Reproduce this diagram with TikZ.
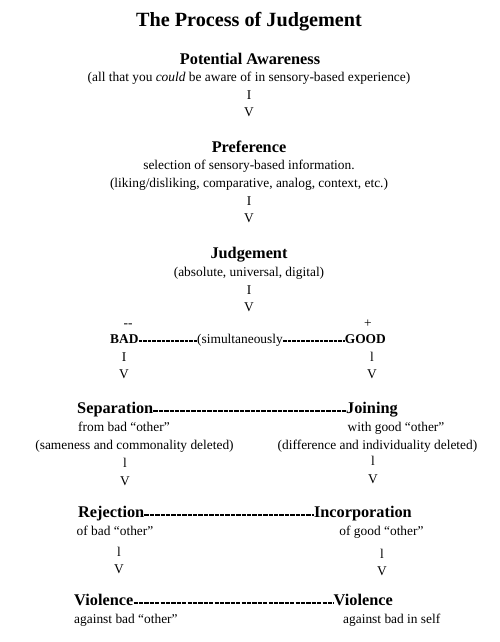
\documentclass[tikz,border=0pt]{standalone}
\usepackage{fontspec}
\setmainfont{Liberation Serif}
\usepackage{tikz}
\usetikzlibrary{positioning}

\begin{document}
\begin{tikzpicture}[x=1pt, y=-1pt,
    txt/.style={inner sep=0pt, text height=.7em, text depth=.2em,
                font=\fontsize{13.4}{16}\selectfont},
    boldtxt/.style={txt, font=\fontsize{13.4}{16}\selectfont\bfseries},
    headtxt/.style={txt, font=\fontsize{16.3}{19}\selectfont\bfseries},
    hyphens/.style={line width=1.1pt, dash pattern=on 3.6pt off 1pt, yshift=0.4pt},
    bighyphens/.style={line width=1.3pt, dash pattern=on 4.3pt off 1.1pt, yshift=0.4pt}]
  \useasboundingbox (0,0) rectangle (500,642);
  % titel
  \node[txt, font=\fontsize{20.2}{24}\selectfont\bfseries] (title) at (249,24) {The Process of Judgement};
  % potential awareness
  \node[headtxt] (aware) at (250,62) {Potential Awareness};
  \node[txt] (awaredesc) at (249,79) {(all that you \textit{could} be aware of in sensory-based experience)};
  \node[txt] (awareI) at (249,97) {I};
  \node[txt] (awareV) at (249,114) {V};
  % preference
  \node[headtxt] (pref) at (249,150) {Preference};
  \node[txt] (prefdesc) at (249,167) {selection of sensory-based information.};
  \node[txt] (prefdesc2) at (249,185) {(liking/disliking, comparative, analog, context, etc.)};
  \node[txt] (prefI) at (249,203) {I};
  \node[txt] (prefV) at (249,220) {V};
  % judgement
  \node[headtxt] (judge) at (249,256) {Judgement};
  \node[txt] (judgedesc) at (249,274) {(absolute, universal, digital)};
  \node[txt] (judgeI) at (249,292) {I};
  \node[txt] (judgeV) at (249,309) {V};
  % bad / good
  \node[txt] (minus) at (128,325) {{-}{-}};
  \node[txt] (plus) at (368,325) {+};
  \node[boldtxt, anchor=west] (bad) at (110,341) {BAD};
  \node[txt] (simul) at (240,341) {(simultaneously};
  \node[boldtxt, anchor=east] (good) at (386,341) {GOOD};
  \draw[hyphens] (bad.east) -- (simul.west);
  \draw[hyphens] (simul.east) -- (good.west);
  \node[txt] (badI) at (124,359) {I};
  \node[txt] (badV) at (124,376) {V};
  \node[txt] (goodI) at (372,359) {l};
  \node[txt] (goodV) at (372,376) {V};
  % separation / joining
  \node[headtxt, anchor=west] (sep) at (77,411) {Separation};
  \node[headtxt, anchor=east] (join) at (398,411) {Joining};
  \draw[bighyphens] (sep.east) -- (join.west);
  \node[txt] (sepdesc) at (124,429) {from bad “other”};
  \node[txt] (sepdesc2) at (134.5,447) {(sameness and commonality deleted)};
  \node[txt] (joindesc) at (396,429) {with good “other”};
  \node[txt] (joindesc2) at (377.5,447) {(difference and individuality deleted)};
  \node[txt] (sepI) at (125,465) {l};
  \node[txt] (sepV) at (125,483) {V};
  \node[txt] (joinI) at (373,463) {l};
  \node[txt] (joinV) at (373,481) {V};
  % rejection / incorporation
  \node[headtxt, anchor=west] (rej) at (78,515) {Rejection};
  \node[headtxt, anchor=east] (inc) at (412,515) {Incorporation};
  \draw[bighyphens] (rej.east) -- (inc.west);
  \node[txt] (rejdesc) at (115,533) {of bad “other”};
  \node[txt] (incdesc) at (381.5,533) {of good “other”};
  \node[txt] (rejI) at (119,554) {l};
  \node[txt] (rejV) at (119,571) {V};
  \node[txt] (incI) at (382,556) {l};
  \node[txt] (incV) at (382,573) {V};
  % violence
  \node[headtxt, anchor=west] (viol) at (74,603) {Violence};
  \node[headtxt, anchor=east] (violself) at (393,603) {Violence};
  \draw[bighyphens] (viol.east) -- (violself.west);
  \node[txt, anchor=west] (violdesc) at (74,621) {against bad “other”};
  \node[txt, anchor=west] (violselfdesc) at (343,621) {against bad in self};
\end{tikzpicture}
\end{document}
